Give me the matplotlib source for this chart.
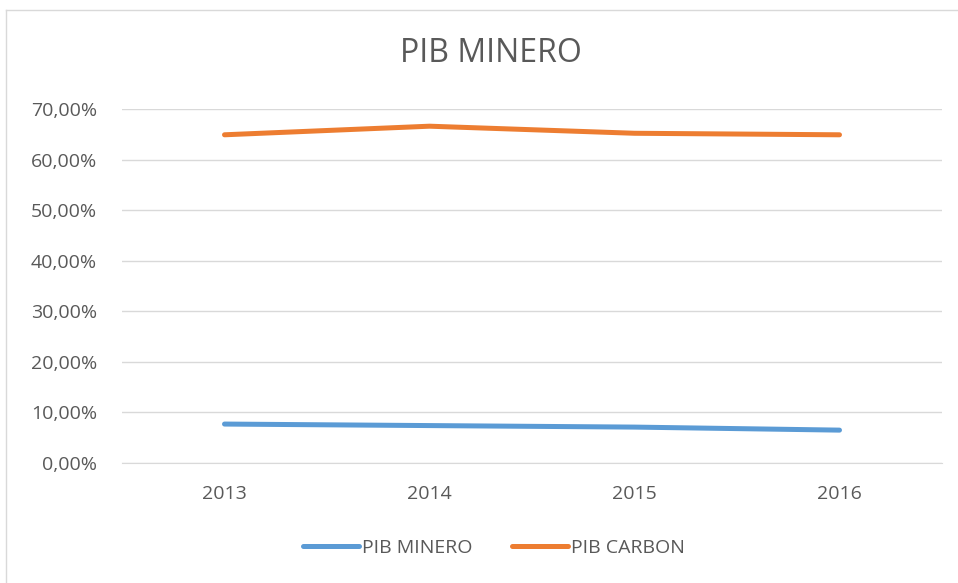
import matplotlib
matplotlib.use("Agg")
import matplotlib.pyplot as plt
from matplotlib.lines import Line2D
from matplotlib.ticker import FuncFormatter

years = ["2013", "2014", "2015", "2016"]
pib_minero = [7.7, 7.4, 7.1, 6.5]
pib_carbon = [64.9, 66.6, 65.2, 64.9]
series_names = ["PIB MINERO", "PIB CARBON"]

plt.rcParams['font.family'] = ['Open Sans', 'DejaVu Sans']
txt = '#595959'

fig = plt.figure(figsize=(9.58, 5.83), dpi=100)
ax = fig.add_axes([122/958, 1-463/583, (942-122)/958, (463-109)/583])

x = list(range(len(years)))
ax.plot(x, pib_minero, color='#5B9BD5', lw=3.6, solid_capstyle='round', label=series_names[0])
ax.plot(x, pib_carbon, color='#ED7D31', lw=3.6, solid_capstyle='round', label=series_names[1])

ax.set_xlim(-0.5, len(years)-0.5)
ax.set_ylim(0, 70)
ax.set_yticks(range(0, 71, 10))
ax.yaxis.set_major_formatter(FuncFormatter(lambda v, p: f"{v:.2f}%".replace('.', ',')))
ax.set_xticks(x)
ax.set_xticklabels(years)
ax.grid(axis='y', color='#D9D9D9', lw=1)
ax.set_axisbelow(True)
for s in ['top', 'right', 'left']:
    ax.spines[s].set_visible(False)
ax.spines['bottom'].set_color('#D9D9D9')
ax.tick_params(length=0, labelsize=14, colors=txt)
ax.tick_params(axis='y', pad=18)
ax.tick_params(axis='x', pad=16)

fig.text(491/958, 1-53/583, "PIB MINERO", ha='center', va='center', fontsize=23, color=txt)

leg = fig.legend(loc='center', bbox_to_anchor=(494/958, 1-548/583), ncol=2, frameon=False,
                 fontsize=14, handlelength=2.9, columnspacing=2.0, handletextpad=0.15, labelcolor=txt)

# outer border
fig.add_artist(Line2D([6/958, 6/958], [0, 1-10/583], color='#D9D9D9', lw=1, transform=fig.transFigure))
fig.add_artist(Line2D([6/958, 1], [1-10/583, 1-10/583], color='#D9D9D9', lw=1, transform=fig.transFigure))

fig.savefig("out.png", dpi=100)
